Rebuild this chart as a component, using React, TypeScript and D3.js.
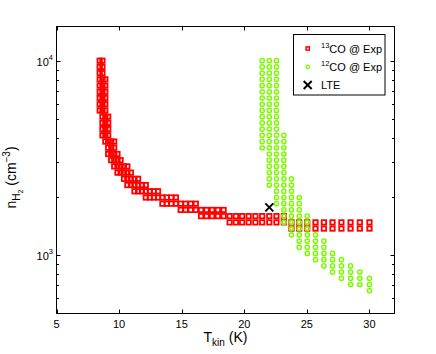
import React from 'react';
import * as d3 from 'd3';

const W = 436;
const H = 354;

// Axis ticks
const xTicks = [5, 10, 15, 20, 25, 30];
const yMajor = [1000, 10000];
const yMinor = [600, 700, 800, 900, 2000, 3000, 4000, 5000, 6000, 7000, 8000, 9000];

// Density grid (rows of the model grid), cm^-3
const nGrid = [10000, 9290, 8630, 8017, 7447, 6918, 6427, 5970, 5546, 5152, 4786, 4446, 4130, 3837, 3565, 3311, 3076, 2858, 2655, 2466, 2291, 2128, 1977, 1837, 1706, 1585, 1472, 1368, 1271, 1180, 1096, 1019, 946, 879, 817, 759, 705, 655];

// 13CO @ Exp: per temperature column, highest and lowest density accepted
const co13T = [8.45, 8.67, 8.90, 9.13, 9.37, 9.61, 9.87, 10.12, 10.39, 10.66, 10.94, 11.23, 11.52, 11.82, 12.13, 12.45, 12.78, 13.11, 13.46, 13.81, 14.17, 14.54, 14.92, 15.31, 15.72, 16.13, 16.55, 16.98, 17.43, 17.89, 18.35, 18.83, 19.33, 19.83, 20.35, 20.89, 21.43, 22.00, 22.57, 23.16, 23.77, 24.39, 25.03, 25.69, 26.36, 27.05, 27.76, 28.49, 29.23, 30.00];
const co13Hi = [10000, 10000, 8017, 5152, 3837, 3837, 3311, 3076, 2858, 2858, 2655, 2466, 2466, 2291, 2291, 2128, 2128, 2128, 1977, 1977, 1977, 1977, 1837, 1837, 1837, 1837, 1706, 1706, 1706, 1706, 1706, 1585, 1585, 1585, 1585, 1585, 1585, 1585, 1585, 1585, 1472, 1472, 1472, 1472, 1472, 1472, 1472, 1472, 1472, 1472];
const co13Lo = [5546, 4130, 3837, 3311, 3076, 2858, 2655, 2655, 2466, 2291, 2291, 2128, 2128, 2128, 1977, 1977, 1977, 1977, 1837, 1837, 1837, 1837, 1706, 1706, 1706, 1706, 1585, 1585, 1585, 1585, 1585, 1472, 1472, 1472, 1472, 1472, 1472, 1472, 1472, 1472, 1368, 1368, 1368, 1368, 1368, 1368, 1368, 1368, 1368, 1368];

// 12CO @ Exp
const co12T = [21.43, 22.00, 22.57, 23.16, 23.77, 24.39, 25.03, 25.69, 26.36, 27.05, 27.76, 28.49, 29.23, 30.00];
const co12Hi = [10000, 10000, 10000, 4130, 2466, 1977, 1585, 1271, 1180, 1019, 946, 879, 817, 759];
const co12Lo = [3565, 2291, 1837, 1472, 1271, 1096, 1019, 946, 879, 817, 759, 705, 705, 655];

// LTE
const lteT = [22];
const lteN = [1760];

const FONT = "'Liberation Sans', Arial, Helvetica, sans-serif";
const RED = '#ff0000';
const GREEN = '#7cfc00';

function gridPoints(T: number[], hi: number[], lo: number[]) {
  const pts: { t: number; n: number }[] = [];
  T.forEach((t, i) => {
    nGrid.forEach((n) => {
      if (n <= hi[i] * 1.001 && n >= lo[i] * 0.999) pts.push({ t, n });
    });
  });
  return pts;
}

export default function App() {
  const L = 56.5, R = 394.5, T = 26.5, B = 313.5;
  const x = d3.scaleLinear().domain([5, 32]).range([L, R]);
  const y = d3.scaleLog().domain([500, 15000]).range([B, T]);

  const red = gridPoints(co13T, co13Hi, co13Lo);
  const green = gridPoints(co12T, co12Hi, co12Lo);

  const sq = (cx: number, cy: number, k: string, s = 4.4, w = 1.8) => (
    <rect key={k} x={cx - s / 2} y={cy - s / 2} width={s} height={s} fill="none" stroke={RED} strokeWidth={w} />
  );
  const circ = (cx: number, cy: number, k: string, r = 2.1, w = 1.5) => (
    <circle key={k} cx={cx} cy={cy} r={r} fill="none" stroke={GREEN} strokeWidth={w} />
  );
  const cross = (cx: number, cy: number, k: string) => (
    <g key={k} stroke="#000" strokeWidth={1.9}>
      <line x1={cx - 4} y1={cy - 4} x2={cx + 4} y2={cy + 4} />
      <line x1={cx - 4} y1={cy + 4} x2={cx + 4} y2={cy - 4} />
    </g>
  );

  const legY = [48.5, 67, 85];
  const legMX = 307.7;
  const legTX = 321;

  return (
    <svg width={W} height={H} style={{ position: 'absolute', left: 0, top: 0, background: '#fff' }} fontFamily={FONT}>
      <rect x={0} y={0} width={W} height={H} fill="#fff" />
      {/* data */}
      <g>
        {red.map((p, i) => sq(x(p.t), y(p.n), 'r' + i))}
        {green.map((p, i) => circ(x(p.t), y(p.n), 'g' + i))}
        {lteT.map((t, i) => cross(x(t), y(lteN[i]), 'l' + i))}
      </g>
      {/* axes box */}
      <rect x={L} y={T} width={R - L} height={B - T} fill="none" stroke="#000" strokeWidth={1} />
      {/* ticks */}
      <g stroke="#000" strokeWidth={1}>
        {xTicks.map((t) => (
          <g key={'xt' + t}>
            <line x1={Math.round(x(t)) + 0.5} x2={Math.round(x(t)) + 0.5} y1={B} y2={B - 4} />
            <line x1={Math.round(x(t)) + 0.5} x2={Math.round(x(t)) + 0.5} y1={T} y2={T + 4} />
          </g>
        ))}
        {yMajor.map((v) => (
          <g key={'ym' + v}>
            <line x1={L} x2={L + 4} y1={Math.round(y(v)) + 0.5} y2={Math.round(y(v)) + 0.5} />
            <line x1={R} x2={R - 4} y1={Math.round(y(v)) + 0.5} y2={Math.round(y(v)) + 0.5} />
          </g>
        ))}
        {yMinor.map((v) => (
          <g key={'yn' + v}>
            <line x1={L} x2={L + 2.5} y1={Math.round(y(v)) + 0.5} y2={Math.round(y(v)) + 0.5} />
            <line x1={R} x2={R - 2.5} y1={Math.round(y(v)) + 0.5} y2={Math.round(y(v)) + 0.5} />
          </g>
        ))}
      </g>
      {/* tick labels */}
      <g fontSize={11} fill="#000">
        {xTicks.map((t) => (
          <text key={'xl' + t} x={x(t)} y={327.5} textAnchor="middle">{t}</text>
        ))}
        {yMajor.map((v) => (
          <text key={'yl' + v} x={53} y={y(v) + 4.8} textAnchor="end">
            10<tspan fontSize={7.5} dy={-5.5}>{Math.round(Math.log10(v))}</tspan>
          </text>
        ))}
      </g>
      {/* axis labels */}
      <text x={(L + R) / 2} y={341.7} textAnchor="middle" fontSize={14} fill="#000">
        T<tspan fontSize={10} dy={4}>kin</tspan><tspan dy={-4}> (K)</tspan>
      </text>
      <text transform="translate(15.5,177.5) rotate(-90)" textAnchor="middle" fontSize={14} fill="#000">
        n<tspan fontSize={10} dy={4}>H</tspan><tspan fontSize={7} dy={3}>2</tspan><tspan dy={-7}> (cm</tspan><tspan fontSize={10} dy={-6}>−3</tspan><tspan dy={6}>)</tspan>
      </text>
      {/* legend */}
      <rect x={293.5} y={34.5} width={91.5} height={60.5} fill="#fff" stroke="#000" strokeWidth={1} />
      {sq(legMX, legY[0], 'ls', 3.2, 1.5)}
      {circ(legMX, legY[1], 'lc', 1.8, 1.4)}
      {cross(legMX, legY[2], 'lx')}
      <g fontSize={11} fill="#000">
        <text x={legTX} y={legY[0] + 4}>
          <tspan fontSize={7.5} dy={-5}>13</tspan><tspan dy={5}>CO @ Exp</tspan>
        </text>
        <text x={legTX} y={legY[1] + 4}>
          <tspan fontSize={7.5} dy={-5}>12</tspan><tspan dy={5}>CO @ Exp</tspan>
        </text>
        <text x={legTX} y={legY[2] + 4}>LTE</text>
      </g>
    </svg>
  );
}
